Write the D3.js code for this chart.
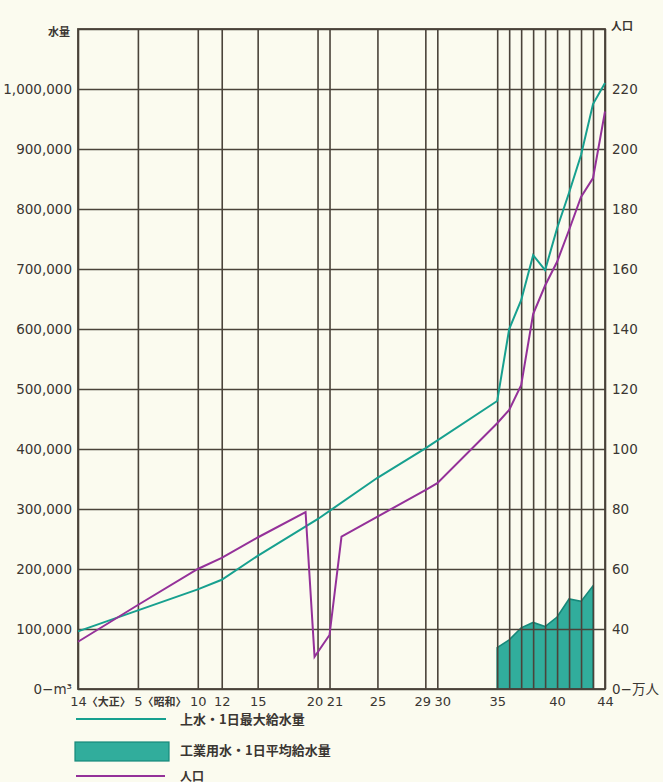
<!DOCTYPE html>
<html>
<head>
<meta charset="utf-8">
<script src="https://cdn.jsdelivr.net/npm/d3@7"></script>
<style>
  body { margin: 0; background: #fbfbef; }
  svg { display: block; }
</style>
</head>
<body>
<svg></svg>
<script>
// 上水・1日最大給水量 (m³)
const waterYears = [1925, 1930, 1935, 1937, 1940, 1945, 1950, 1954, 1960, 1961, 1962, 1963, 1964, 1965, 1966, 1967, 1968, 1969];
const waterMax = [96000, 131000, 166000, 182000, 222000, 283000, 352000, 401000, 480000, 600000, 648000, 723000, 698000, 768000, 827000, 890000, 975000, 1010000];

// 工業用水・1日平均給水量 (m³)
const indYears = [1960, 1961, 1962, 1963, 1964, 1965, 1966, 1967, 1968];
const indAvg = [69000, 82000, 102000, 111000, 104000, 120000, 150000, 146000, 172000];

// 人口 (万人)
const popYears = [1925, 1930, 1935, 1937, 1940, 1944, 1944.75, 1946, 1947, 1954, 1955, 1960, 1961, 1962, 1963, 1964, 1965, 1966, 1967, 1968, 1969];
const popValues = [31.5, 48, 60, 63.7, 70.5, 79, 21.5, 36, 70.8, 86.3, 88.6, 108.6, 113, 121.3, 145, 154.5, 162.4, 173, 184, 190.3, 212.5];

// axes
const gridYears = [1925, 1930, 1935, 1937, 1940, 1945, 1946, 1950, 1954, 1955, 1960, 1961, 1962, 1963, 1964, 1965, 1966, 1967, 1968, 1969];
const labelYears = [1925, 1930, 1935, 1937, 1940, 1945, 1946, 1950, 1954, 1955, 1960, 1965, 1969];
const labelTexts = ["14", "5", "10", "12", "15", "20", "21", "25", "29", "30", "35", "40", "44"];
const eraYears = [1925, 1930];
const eraTexts = ["〈大正〉", "〈昭和〉"];
const waterTicks = [0, 100000, 200000, 300000, 400000, 500000, 600000, 700000, 800000, 900000, 1000000, 1100000];
const popTicks = [0, 40, 60, 80, 100, 120, 140, 160, 180, 200, 220];

const width = 663, height = 782;
const margin = { left: 78, right: 605, top: 29, bottom: 689 };
const gridColor = "#4a433a";
const textColor = "#3a3632";
const teal = "#17a08f", purple = "#943199";

const svg = d3.select("svg").attr("width", width).attr("height", height);

svg.append("rect").attr("width", width).attr("height", height).attr("fill", "#fbfbef");

const x = d3.scaleLinear().domain([1925, 1969]).range([margin.left, margin.right]);
const yW = d3.scaleLinear().domain([0, 1100000]).range([margin.bottom, margin.top]);
// 人口軸は 0〜40 を詰めている
const yP = d3.scaleLinear().domain([0, 40, 240]).range([margin.bottom, margin.bottom - 60, margin.top]);

// industrial water area (under grid)
svg.append("path")
   .datum(indYears.map((d, i) => [d, indAvg[i]]))
   .attr("d", d3.area().x(d => x(d[0])).y0(yW(0)).y1(d => yW(d[1])))
   .attr("fill", "#31ad9c")
   .attr("stroke", "#16897a")
   .attr("stroke-width", 1.6);

// horizontal grid + left labels
const gy = svg.append("g")
   .attr("transform", `translate(${margin.left},0)`)
   .call(d3.axisLeft(yW)
       .tickValues(waterTicks)
       .tickSizeInner(-(margin.right - margin.left))
       .tickSizeOuter(0)
       .tickPadding(6)
       .tickFormat(d => d === 0 ? "0−m³" : d > 1000000 ? "" : d3.format(",")(d)));
gy.select(".domain").remove();
gy.selectAll("line").attr("stroke", gridColor).attr("stroke-width", 1.6);
gy.selectAll("text")
  .attr("fill", textColor)
  .style("font-family", "'DejaVu Sans', sans-serif")
  .style("font-size", "13.5px");

// vertical grid + bottom labels
const gx = svg.append("g")
   .attr("transform", `translate(0,${margin.bottom})`)
   .call(d3.axisBottom(x)
       .tickValues(gridYears)
       .tickSizeInner(-(margin.bottom - margin.top))
       .tickSizeOuter(0)
       .tickPadding(8)
       .tickFormat(d => {
           const i = labelYears.indexOf(d);
           return i < 0 ? "" : labelTexts[i];
       }));
gx.select(".domain").remove();
gx.selectAll("line").attr("stroke", gridColor).attr("stroke-width", 1.6);
gx.selectAll("text")
  .attr("fill", textColor)
  .style("font-family", "'DejaVu Sans', sans-serif")
  .style("font-size", "13px")
  // 隣り合う年 (20・21, 29・30) は左右に寄せる
  .attr("dx", d => labelYears.includes(d + 1) ? -3 : labelYears.includes(d - 1) ? 5 : 0);

// era suffixes
gx.selectAll(".tick").filter(d => eraYears.includes(d)).select("text")
  .attr("text-anchor", "start")
  .attr("dx", function() { return -this.getComputedTextLength() / 2; })
  .append("tspan")
  .style("font-family", "'Noto Sans CJK JP', sans-serif")
  .style("font-size", "11px")
  .style("font-weight", "bold")
  .text(d => eraTexts[eraYears.indexOf(d)]);

// right axis
const gr = svg.append("g")
   .attr("transform", `translate(${margin.right},0)`)
   .call(d3.axisRight(yP)
       .tickValues(popTicks)
       .tickSize(0)
       .tickPadding(7)
       .tickFormat(d => d === 0 ? "0−万人" : d));
gr.select(".domain").remove();
gr.selectAll("text")
  .attr("fill", textColor)
  .style("font-family", "'DejaVu Sans', 'Noto Sans CJK JP', sans-serif")
  .style("font-size", "13.5px");

// frame
svg.append("rect")
   .attr("x", margin.left).attr("y", margin.top)
   .attr("width", margin.right - margin.left).attr("height", margin.bottom - margin.top)
   .attr("fill", "none")
   .attr("stroke", gridColor)
   .attr("stroke-width", 1.8);

// axis titles
svg.append("text").attr("x", 70).attr("y", 36)
   .attr("text-anchor", "end")
   .attr("fill", textColor)
   .style("font-family", "'Noto Sans CJK JP', sans-serif")
   .style("font-size", "11px").style("font-weight", "bold")
   .text("水量");
svg.append("text").attr("x", 611).attr("y", 30)
   .attr("fill", textColor)
   .style("font-family", "'Noto Sans CJK JP', sans-serif")
   .style("font-size", "11px").style("font-weight", "bold")
   .text("人口");

// lines
svg.append("path")
   .datum(waterYears.map((d, i) => [d, waterMax[i]]))
   .attr("d", d3.line().x(d => x(d[0])).y(d => yW(d[1])))
   .attr("fill", "none")
   .attr("stroke", teal)
   .attr("stroke-width", 2);

svg.append("path")
   .datum(popYears.map((d, i) => [d, popValues[i]]))
   .attr("d", d3.line().x(d => x(d[0])).y(d => yP(d[1])))
   .attr("fill", "none")
   .attr("stroke", purple)
   .attr("stroke-width", 2);

// legend
const legend = svg.append("g")
   .style("font-family", "'Noto Sans CJK JP', sans-serif")
   .style("font-size", "13px")
   .style("font-weight", "bold")
   .attr("fill", textColor);

legend.append("line")
   .attr("x1", 76).attr("x2", 166).attr("y1", 719).attr("y2", 719)
   .attr("stroke", teal).attr("stroke-width", 2);
legend.append("text").attr("x", 180).attr("y", 723.5).text("上水・1日最大給水量");

legend.append("rect")
   .attr("x", 75).attr("y", 742).attr("width", 94).attr("height", 19)
   .attr("fill", "#31ad9c").attr("stroke", "#16897a").attr("stroke-width", 1.2);
legend.append("text").attr("x", 180).attr("y", 754.5).text("工業用水・1日平均給水量");

legend.append("line")
   .attr("x1", 76).attr("x2", 165).attr("y1", 776).attr("y2", 776)
   .attr("stroke", purple).attr("stroke-width", 2);
legend.append("text").attr("x", 180).attr("y", 780.5).style("font-size", "12px").text("人口");
</script>
</body>
</html>
